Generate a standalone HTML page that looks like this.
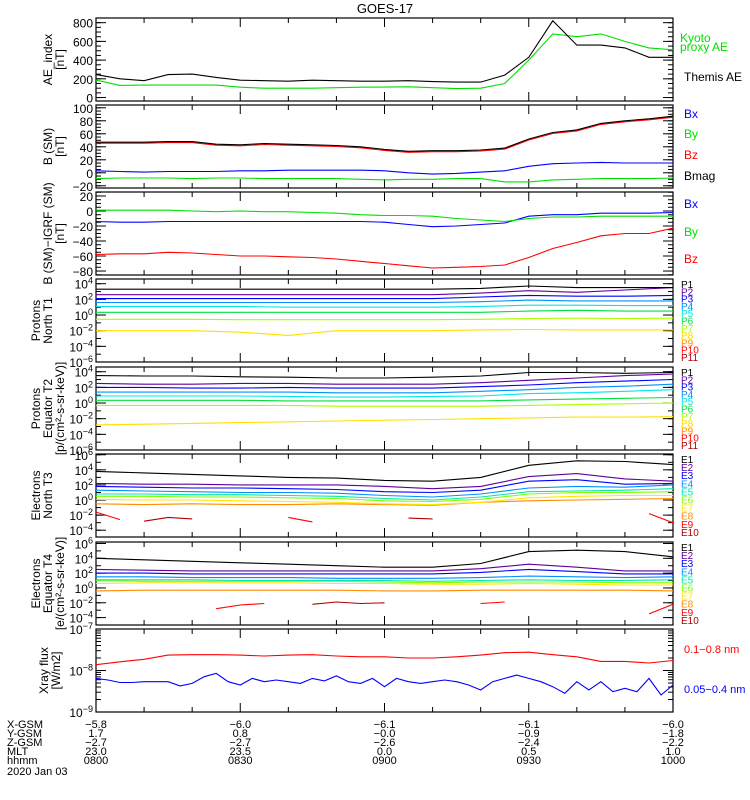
<!DOCTYPE html>
<html><head><meta charset="utf-8"><title>GOES-17</title>
<style>
html,body{margin:0;padding:0;background:#fff;}
svg{display:block;font-family:"Liberation Sans",sans-serif;}
</style></head>
<body>
<svg id="chart" width="750" height="800" viewBox="0 0 750 800" xmlns="http://www.w3.org/2000/svg"></svg>
<script>
// ---------- data (time in minutes after 08:00) ----------
const aeThemis = [245,200,180,245,250,215,185,180,175,185,180,175,175,180,170,165,165,240,430,820,560,560,530,430,430];
const aeKyoto  = [187,130,133,133,133,133,110,100,100,100,105,110,112,115,105,95,100,150,400,680,650,680,600,530,510];
const bBx   = [3,2,1,2,2,2,3,3,4,4,4,4,3,0,-2,-1,1,3,10,14,15,16,15,15,15];
const bBy   = [-9,-8,-8,-8,-9,-8,-8,-9,-9,-9,-9,-10,-11,-10,-10,-9,-9,-14,-14,-11,-10,-9,-9,-9,-8];
const bBz   = [45.5,45.5,45.5,46.5,46.5,42.5,41.5,43.5,42.5,41.5,40.5,38.5,34.5,31.5,32.5,32.5,33.5,36.5,50.5,60.5,64.5,74.5,78.5,81.5,85.5];
const bMag  = [47,47,47,48,48,44,43,45,44,43,42,40,36,33,34,34,35,38,52,62,66,76,80,83,87];
const dBx   = [-14,-15,-15,-14,-14,-14,-14,-14,-14,-14,-14,-14,-15,-18,-21,-20,-18,-16,-7,-5,-5,-3,-3,-3,-2];
const dBy   = [1,1,1,1,0,-1,0,-1,-1,-2,-3,-5,-6,-6,-7,-10,-12,-14,-10,-8,-8,-7,-7,-7,-7];
const dBz   = [-58,-57,-57,-55,-56,-58,-60,-60,-61,-62,-64,-67,-70,-73,-76,-75,-74,-72,-62,-50,-42,-33,-30,-30,-23];
// log10 flux, 10-minute samples
const pN = [
 [3.3,3.3,3.3,3.3,3.3,3.3,3.3,3.3,3.4,3.7,3.5,3.5,3.5],
 [2.6,2.6,2.6,2.6,2.6,2.6,2.6,2.6,2.8,3.1,2.9,3.2,3.5],
 [2.1,2.1,2.1,2.1,2.1,2.1,2.1,2.1,2.3,2.5,2.4,2.4,2.5],
 [1.6,1.6,1.6,1.6,1.6,1.6,1.6,1.6,1.7,1.9,1.8,1.8,1.8],
 [1.1,1.1,1.1,1.1,1.0,1.0,1.0,1.0,1.1,1.25,1.25,1.2,1.2],
 [0.35,0.35,0.35,0.35,0.35,0.35,0.35,0.35,0.35,0.5,0.6,0.5,0.5],
 [-0.55,-0.55,-0.55,-0.6,-0.6,-0.6,-0.6,-0.6,-0.55,-0.45,-0.4,-0.45,-0.4],
 [-2.0,-2.0,-2.0,-2.2,-2.6,-2.0,-2.0,-2.0,-1.9,-1.85,-1.9,-1.9,-1.9]
];
const pE = [
 [3.5,3.45,3.45,3.35,3.3,3.2,3.2,3.3,3.45,3.9,3.9,3.8,3.9],
 [2.5,2.4,2.4,2.5,2.5,2.4,2.4,2.4,2.6,2.9,3.2,3.5,3.7],
 [2.0,2.0,1.9,1.9,2.0,1.9,1.9,1.9,2.1,2.3,2.6,2.8,3.0],
 [1.4,1.4,1.4,1.4,1.4,1.3,1.3,1.3,1.5,1.7,2.0,2.15,2.4],
 [0.9,0.9,0.9,0.9,0.85,0.75,0.75,0.85,0.9,1.2,1.3,1.5,1.7],
 [0.35,0.35,0.35,0.35,0.27,0.27,0.27,0.27,0.27,0.4,0.5,0.6,0.7],
 [-0.3,-0.3,-0.3,-0.3,-0.3,-0.4,-0.4,-0.4,-0.4,-0.3,-0.2,-0.1,0.0],
 [-2.8,-2.7,-2.6,-2.5,-2.4,-2.3,-2.2,-2.1,-2.0,-1.9,-1.8,-1.8,-1.75]
];
const eN = [
 [3.8,3.6,3.4,3.2,3.0,2.9,2.6,2.5,3.0,4.6,5.2,5.1,4.7],
 [2.2,2.1,2.1,2.0,2.0,2.0,1.8,1.5,1.8,3.1,3.5,2.8,2.5],
 [1.8,1.7,1.6,1.6,1.5,1.4,1.1,1.0,1.3,2.5,2.7,2.1,2.2],
 [1.3,1.2,1.1,1.0,1.0,0.9,0.6,0.4,0.8,1.6,1.8,1.7,2.0],
 [0.8,0.8,0.7,0.7,0.6,0.5,0.2,0.0,0.4,1.1,1.2,1.3,1.5],
 [0.5,0.5,0.4,0.4,0.3,0.2,-0.1,-0.2,0.1,0.8,1.0,1.0,1.1],
 [0.1,0.0,0.0,-0.1,-0.2,-0.3,-0.5,-0.6,-0.3,0.3,0.5,0.6,0.6],
 [-0.5,-0.6,-0.5,-0.6,-0.6,-0.5,-0.6,-0.7,-0.3,-0.1,0.0,0.1,0.2]
];
const eE = [
 [4.0,3.8,3.6,3.4,3.2,3.0,2.8,2.8,3.3,4.9,5.1,4.9,4.2],
 [2.5,2.4,2.3,2.3,2.3,2.3,2.3,2.3,2.6,3.2,2.8,2.3,2.3],
 [2.0,2.0,1.9,1.9,1.9,1.9,1.9,1.9,2.1,2.5,2.2,1.9,1.9],
 [1.5,1.5,1.4,1.4,1.4,1.3,1.3,1.3,1.4,1.6,1.5,1.4,1.5],
 [1.1,1.1,1.1,1.0,1.0,1.0,1.0,0.9,1.0,1.1,1.0,1.0,1.1],
 [1.0,0.9,0.9,0.9,0.9,0.9,0.8,0.7,0.8,0.8,0.8,0.7,0.7],
 [0.6,0.7,0.7,0.7,0.7,0.6,0.6,0.5,0.5,0.6,0.5,0.4,0.4],
 [-0.4,-0.3,-0.3,-0.3,-0.3,-0.3,-0.4,-0.4,-0.3,-0.3,-0.3,-0.3,-0.4]
];
// sparse high-energy channels, 5-minute samples (null = no data)
const eN9  = [-1.6,-2.6,null,null,null,null,null,null,-2.3,-2.9,null,null,null,null,null,null,null,null,null,null,null,null,null,-1.8,-3.0];
const eN10 = [null,null,-2.8,-2.3,-2.5,null,null,null,null,null,null,null,null,-2.4,-2.5,null,null,null,null,null,null,null,null,null,null];
const eE9  = [null,null,null,null,null,-2.8,-2.3,-2.1,null,null,null,null,null,null,null,null,-2.1,-1.9,null,null,null,null,null,-3.5,-2.2];
const eE10 = [null,null,null,null,null,null,null,null,null,-2.2,-1.9,-2.1,-2.0,null,null,null,null,null,null,null,null,null,null,null,null];
const xLong = [-7.86,-7.79,-7.73,-7.63,-7.62,-7.62,-7.63,-7.65,-7.63,-7.62,-7.65,-7.67,-7.67,-7.70,-7.70,-7.67,-7.63,-7.57,-7.56,-7.62,-7.67,-7.78,-7.78,-7.82,-7.76];
const xShort = [-8.19,-8.23,-8.29,-8.29,-8.27,-8.27,-8.27,-8.37,-8.31,-8.15,-8.07,-8.27,-8.35,-8.19,-8.27,-8.23,-8.27,-8.31,-8.19,-8.25,-8.13,-8.27,-8.31,-8.19,-8.39,-8.19,-8.27,-8.31,-8.27,-8.23,-8.27,-8.35,-8.47,-8.27,-8.19,-8.11,-8.19,-8.27,-8.39,-8.55,-8.27,-8.47,-8.27,-8.51,-8.43,-8.51,-8.19,-8.59,-8.35];
const orbitRows = ["X-GSM","Y-GSM","Z-GSM","MLT","hhmm"];
const orbitVals = [["-5.8","-6.0","-6.1","-6.1","-6.0"],["1.7","0.8","-0.0","-0.9","-1.8"],["-2.7","-2.7","-2.6","-2.4","-2.2"],["23.0","23.5","0.0","0.5","1.0"],["0800","0830","0900","0930","1000"]];
const pColors = ["#000000","#60009c","#0000ff","#0090ff","#00e8e8","#00e040","#a8ff00","#ffe000","#ff8c00","#ff0000","#b00000"];
const eColors = ["#000000","#60009c","#0000ff","#0090ff","#00e8b0","#80ff00","#ffe800","#ff8c00","#ff0000","#b00000"];

// ---------- helpers ----------
const NS="http://www.w3.org/2000/svg";
const svg=document.getElementById('chart');
const X0=96,X1=673,PH=83;
const tops=[18,105,192,279,367,454,542,629];
function xs(t){return X0+t/120*(X1-X0);}
function mk(tag,attrs,parent){const e=document.createElementNS(NS,tag);for(const k in attrs)e.setAttribute(k,attrs[k]);(parent||svg).appendChild(e);return e;}
function times(n,step){const a=[];for(let i=0;i<n;i++)a.push(i*step);return a;}
const t5=times(25,5),t10=times(13,10),t25=times(49,2.5);
function yScale(top,lo,hi){return v=>top+PH-(v-lo)/(hi-lo)*PH;}
function series(ts,vals,ys,color,name,clip){
  let d='',pen=false;
  for(let i=0;i<vals.length;i++){
    const v=vals[i];
    if(v===null||v===undefined){pen=false;continue;}
    d+=(pen?'L':'M')+xs(ts[i]).toFixed(1)+','+ys(v).toFixed(1)+' ';pen=true;
  }
  const p=mk('path',{d:d,fill:'none',stroke:color,'stroke-width':1.1,'clip-path':'url(#'+clip+')'});
  
  
  return p;
}
function text(x,y,s,opts,name){
  const t=mk('text',Object.assign({x:x,y:y,'font-size':12,fill:'#000'},opts||{}));
  t.textContent=s;
  
  
  return t;
}
function supLabel(x,y,exp,name){
  const t=mk('text',{x:x,y:y,'font-size':12,'text-anchor':'end',fill:'#000'});
  
  
  const a=mk('tspan',{},t);a.textContent='10';
  const b=mk('tspan',{dy:-5,'font-size':9},t);b.textContent=String(exp).replace('-','\u2212');
}
function frame(i,name){
  const top=tops[i];
  const cp=mk('clipPath',{id:'c'+i});mk('rect',{x:X0,y:top,width:X1-X0,height:PH},cp);
  const r=mk('rect',{x:X0,y:top,width:X1-X0,height:PH,fill:'none',stroke:'#000','stroke-width':1.2});
  
  
  for(let t=10;t<120;t+=10){
    const L=(t%30===0)?9:5,x=xs(t);
    mk('line',{x1:x,y1:top+PH,x2:x,y2:top+PH-L,stroke:'#000'});
    mk('line',{x1:x,y1:top,x2:x,y2:top+L,stroke:'#000'});
  }
}
function yTicks(top,ys,majors,minors,fmt,idx){
  minors.forEach(v=>{const y=ys(v);if(y<top-0.5||y>top+PH+0.5)return;
    mk('line',{x1:X0,y1:y,x2:X0+5,y2:y,stroke:'#000'});mk('line',{x1:X1,y1:y,x2:X1-5,y2:y,stroke:'#000'});});
  majors.forEach(v=>{const y=ys(v);
    mk('line',{x1:X0,y1:y,x2:X0+10,y2:y,stroke:'#000'});mk('line',{x1:X1,y1:y,x2:X1-10,y2:y,stroke:'#000'});
    if(fmt==='log') supLabel(93,y+5,v,'panel'+idx+'-ytick');
    else text(93,y+5,String(v).replace('-','\u2212'),{'text-anchor':'end'},'panel'+idx+'-ytick');
  });
}
function yTitle(i,lines,xs0,name){
  const cy=tops[i]+PH/2;
  lines.forEach((s,k)=>{
    const x=xs0[k];
    text(x,cy,s,{'text-anchor':'middle',transform:'rotate(-90 '+x+' '+cy+')','font-size':12},name+'-line'+(k+1));
  });
}
function rng(a,b,s){const r=[];for(let v=a;v<=b+1e-9;v+=s)r.push(+v.toFixed(3));return r;}

// title
text(385,13,'GOES-17',{'text-anchor':'middle','font-size':13},'chart-title');

// ---- Panel 1: AE ----
{const i=0,ys=yScale(tops[i],-37,850);frame(i,'ae-index-panel');
 yTicks(tops[i],ys,[0,200,400,600,800],rng(-50,850,50),'lin',1);
 series(t5,aeKyoto,ys,'#00e000','kyoto-ae-line','c0');
 series(t5,aeThemis,ys,'#000','themis-ae-line','c0');
 yTitle(i,['AE_index','[nT]'],[52,64],'ae-y-title');
 text(680,42,'Kyoto',{fill:'#00e000'},'legend-kyoto');text(680,51,'proxy AE',{fill:'#00e000'},'legend-proxy-ae');
 text(684,81,'Themis AE',{},'legend-themis-ae');}
// ---- Panel 2: B SM ----
{const i=1,ys=yScale(tops[i],-23.4,104.3);frame(i,'b-sm-panel');
 yTicks(tops[i],ys,[-20,0,20,40,60,80,100],rng(-20,100,5),'lin',2);
 series(t5,bBx,ys,'#0000ff','b-sm-bx-line','c1');
 series(t5,bBy,ys,'#00e000','b-sm-by-line','c1');
 series(t5,bBz,ys,'#ff0000','b-sm-bz-line','c1');
 series(t5,bMag,ys,'#000','b-sm-bmag-line','c1');
 yTitle(i,['B (SM)','[nT]'],[52,64],'bsm-y-title');
 text(684,118,'Bx',{fill:'#0000ff'},'legend-bx');text(684,138,'By',{fill:'#00e000'},'legend-by');
 text(684,159,'Bz',{fill:'#ff0000'},'legend-bz');text(684,180,'Bmag',{},'legend-bmag');}
// ---- Panel 3: B - IGRF ----
{const i=2,ys=yScale(tops[i],-85.3,25.3);frame(i,'b-igrf-panel');
 yTicks(tops[i],ys,[-80,-60,-40,-20,0,20],rng(-85,25,5),'lin',3);
 series(t5,dBx,ys,'#0000ff','igrf-bx-line','c2');
 series(t5,dBy,ys,'#00e000','igrf-by-line','c2');
 series(t5,dBz,ys,'#ff0000','igrf-bz-line','c2');
 yTitle(i,['B (SM)\u2212IGRF (SM)','[nT]'],[52,64],'igrf-y-title');
 text(684,208,'Bx',{fill:'#0000ff'},'legend-igrf-bx');text(684,236,'By',{fill:'#00e000'},'legend-igrf-by');
 text(684,263,'Bz',{fill:'#ff0000'},'legend-igrf-bz');}
// ---- log channel panels ----
function logPanel(i,lo,hi,majors,data,sparse9,sparse10,prefix,name,title,titleX){
  const cols=prefix==='P'?pColors:eColors;
  const ys=yScale(tops[i],lo,hi);frame(i,name);
  yTicks(tops[i],ys,majors,rng(Math.ceil(lo),Math.floor(hi),1),'log',i+1);
  for(let k=data.length-1;k>=0;k--) series(t10,data[k],ys,cols[k],name+'-'+prefix.toLowerCase()+(k+1),'c'+i);
  if(sparse9) series(t5,sparse9,ys,cols[8],name+'-'+prefix.toLowerCase()+'9','c'+i);
  if(sparse10) series(t5,sparse10,ys,cols[9],name+'-'+prefix.toLowerCase()+'10','c'+i);
  yTitle(i,title,titleX,name+'-y-title');
  const n=cols.length;
  for(let k=0;k<n;k++){
    text(681,tops[i]+9+k*(prefix==='P'?7.3:8.1),prefix+(k+1),{fill:cols[k],'font-size':10},name+'-legend-'+prefix.toLowerCase()+(k+1));
  }
}
logPanel(3,-6,4.6,[4,2,0,-2,-4,-6],pN,null,null,'P','protons-north-panel',['Protons','North T1'],[40,52]);
logPanel(4,-6,4.6,[4,2,0,-2,-4,-6],pE,null,null,'P','protons-equator-panel',['Protons','Equator T2','[p/(cm\u00b2-s-sr-keV)]'],[40,52,64]);
logPanel(5,-4.9,6.1,[6,4,2,0,-2,-4],eN,eN9,eN10,'E','electrons-north-panel',['Electrons','North T3'],[40,52]);
logPanel(6,-5.0,6.2,[6,4,2,0,-2,-4],eE,eE9,eE10,'E','electrons-equator-panel',['Electrons','Equator T4','[e/(cm\u00b2-s-sr-keV)]'],[40,52,64]);
// ---- Panel 8: X-ray ----
{const i=7,ys=yScale(tops[i],-9,-7);frame(i,'xray-panel');
 const minors=[];for(let d=-9;d<-7;d++)for(let m=2;m<=9;m++)minors.push(d+Math.log10(m));
 yTicks(tops[i],ys,[-7,-8,-9],minors,'log',8);
 series(t5,xLong,ys,'#ff0000','xray-long-line','c7');
 series(t25,xShort,ys,'#0000ff','xray-short-line','c7');
 yTitle(i,['Xray flux','[W/m2]'],[48,60],'xray-y-title');
 text(684,653,'0.1\u22120.8 nm',{fill:'#ff0000','font-size':11},'legend-xray-long');
 text(684,693,'0.05\u22120.4 nm',{fill:'#0000ff','font-size':11},'legend-xray-short');}
// ---- orbit table ----
const rowY=[728,737,746,755,764];
orbitRows.forEach((r,k)=>{
  text(7,rowY[k],r,{'font-size':11},'orbit-row-'+r.toLowerCase());
  orbitVals[k].forEach((v,j)=>text(xs(j*30),rowY[k],v.replace('-','\u2212'),{'font-size':11,'text-anchor':'middle'},'orbit-'+r.toLowerCase()+'-'+j));
});
text(7,775,'2020 Jan 03',{'font-size':11},'date-label');
</script>
</body></html>
